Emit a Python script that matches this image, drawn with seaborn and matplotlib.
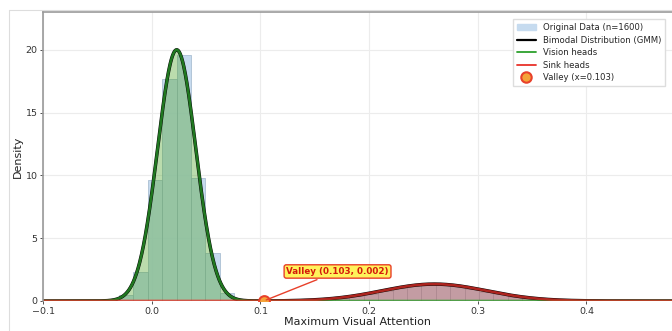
import numpy as np
import pandas as pd
import matplotlib
matplotlib.use("Agg")
import matplotlib.pyplot as plt
import seaborn as sns
from matplotlib.lines import Line2D

# ---- data ----
bin_start = -0.0301
bin_width = 0.01325
n_bins = 30
hist_density = [0.48, 2.34, 9.64, 17.7, 19.6, 9.78, 3.85, 0.66, 0.05, 0.0,
                0.0, 0.02, 0.03, 0.06, 0.12, 0.21, 0.37, 0.57, 0.81, 1.05,
                1.25, 1.35, 1.34, 1.21, 0.99, 0.75, 0.52, 0.33, 0.24, 0.10]
gmm_means = [0.023, 0.260]
gmm_sigmas = [0.0176, 0.048]
gmm_weights = [0.882, 0.162]
component_names = ["Vision heads", "Sink heads"]
valley_x = 0.103
valley_y = 0.002
x_ticks = [-0.1, 0.0, 0.1, 0.2, 0.3, 0.4]
y_ticks = [0, 5, 10, 15, 20]

edges = bin_start + bin_width * np.arange(n_bins + 1)
centers = (edges[:-1] + edges[1:]) / 2
hist_df = pd.DataFrame({"x": centers, "w": hist_density})

sns.set_style("whitegrid", {
    "grid.color": "#ececec",
    "axes.edgecolor": "#9a9a9a",
    "xtick.bottom": True,
    "ytick.left": True,
})
plt.rcParams["font.family"] = ["DejaVu Sans"]

fig = plt.figure(figsize=(6.72, 3.31), dpi=100)
ax = fig.add_axes([43 / 672, 30 / 331, (672 - 43) / 672, (301 - 12) / 331])

sns.histplot(data=hist_df, x="x", weights="w", binwidth=bin_width,
             binrange=(float(edges[0]), float(edges[-1])), stat="count",
             color="#bcd4ec", alpha=0.85, edgecolor="#9fb6cc", linewidth=0.5,
             ax=ax)

grid = np.linspace(-0.1, 0.6, 2000)
comps = [w * np.exp(-0.5 * ((grid - m) / s) ** 2) / (s * np.sqrt(2 * np.pi))
         for m, s, w in zip(gmm_means, gmm_sigmas, gmm_weights)]
total = comps[0] + comps[1]

sns.lineplot(x=grid, y=total, color="black", lw=2.5, ax=ax)
comp_colors = ["#2ca02c", "#e8312a"]
fill_colors = ["#3a9a10", "#c0392b"]
fill_alphas = [0.34, 0.38]
for c, col, fc, fa in zip(comps, comp_colors, fill_colors, fill_alphas):
    ax.fill_between(grid, 0, c, color=fc, alpha=fa, lw=0)
    sns.lineplot(x=grid, y=c, color=col, lw=1.9, alpha=0.75, ax=ax)

ax.scatter([valley_x], [valley_y], s=60, color="#f4a338", edgecolor="#e8402a",
           linewidth=1.5, zorder=6)

ax.annotate(f"Valley ({valley_x:.3f}, {valley_y:.3f})",
            xy=(valley_x, valley_y), xytext=(0.171, 2.35),
            ha="center", va="center", fontsize=6.3, fontweight="bold",
            color="#d41a0a",
            bbox=dict(boxstyle="round,pad=0.25", fc="#fff25a", ec="#e8402a", lw=1),
            arrowprops=dict(arrowstyle="-", color="#e8402a", lw=1),
            zorder=7)

ax.set_xlim(-0.1, 0.4787)
ax.set_ylim(0, 23.0)
ax.set_xticks(x_ticks)
ax.set_yticks(y_ticks)
ax.tick_params(labelsize=6.8, colors="#333333", length=2.5, width=0.6, pad=1.5)
ax.set_xlabel("Maximum Visual Attention", fontsize=8, color="#222222", labelpad=1)
ax.set_ylabel("Density", fontsize=8, color="#222222", labelpad=2)
ax.spines["right"].set_visible(False)
ax.spines["bottom"].set_visible(False)
for sp in ["left", "top"]:
    ax.spines[sp].set_linewidth(1.2)

handles = [
    plt.Rectangle((0, 0), 1, 1, fc="#c6dbef", ec="#c6dbef"),
    Line2D([], [], color="black", lw=1.6),
    Line2D([], [], color=comp_colors[0], lw=1.3),
    Line2D([], [], color=comp_colors[1], lw=1.3),
    Line2D([], [], ls="none", marker="o", ms=7.5, mfc="#f4a338", mec="#e8402a",
           mew=1.5),
]
labels = ["Original Data (n=1600)", "Bimodal Distribution (GMM)",
          component_names[0], component_names[1], f"Valley (x={valley_x:.3f})"]
leg = ax.legend(handles, labels, loc="upper right",
                bbox_to_anchor=(669 / 672, 1 - 15 / 331),
                bbox_transform=fig.transFigure, fontsize=6.1, frameon=True,
                framealpha=1, edgecolor="#dddddd", fancybox=False,
                handlelength=2.2, labelspacing=0.42, borderpad=0.45)

# outer faint frame of the screenshot
fig.add_artist(Line2D([9 / 672, 1], [1 - 10 / 331, 1 - 10 / 331],
                      transform=fig.transFigure, color="#dddddd", lw=0.8))
fig.add_artist(Line2D([9 / 672, 9 / 672], [0, 1 - 10 / 331],
                      transform=fig.transFigure, color="#dddddd", lw=0.8))

fig.savefig("out.png", dpi=100)
